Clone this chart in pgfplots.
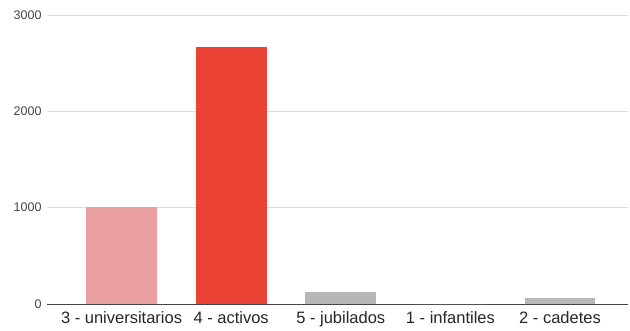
\documentclass[border=0pt]{standalone}
\usepackage{pgfplots}
\pgfplotsset{compat=1.18}
\usepackage{fontspec}
\setmainfont{Liberation Sans}
\definecolor{cpink}{HTML}{E99F9E}
\definecolor{cred}{HTML}{EA4335}
\definecolor{cgray}{HTML}{B7B7B7}
\definecolor{cgrid}{HTML}{DDDDDD}
\definecolor{ctext}{HTML}{444444}
\begin{document}
\begin{tikzpicture}[x=1pt,y=1pt]
\path[use as bounding box] (-47,-26) rectangle (583,304);
\begin{axis}[
  at={(0,0)}, anchor=south west,
  scale only axis, width=581pt, height=289pt,
  xmin=-0.68, xmax=4.62, ymin=0, ymax=3000,
  ybar, bar width=0.647, bar shift=0pt,
  xtick={0,1,2,3,4},
  xticklabels={3 - universitarios, 4 - activos, 5 - jubilados, 1 - infantiles, 2 - cadetes},
  ytick={0,1000,2000,3000},
  axis y line*=left,
  y axis line style={draw=none},
  axis x line*=bottom,
  x axis line style={color=ctext, line width=0.8pt, -},
  major tick length=0pt,
  ymajorgrids, grid style={cgrid, line width=0.8pt},
  /pgf/number format/assume math mode=true,
  /pgf/number format/1000 sep={},
  yticklabel style={font=\fontsize{12.5}{14}\selectfont, color=ctext, xshift=-2pt},
  xticklabel style={font=\fontsize{16.5}{18}\selectfont, color=black!85, yshift=-4pt},
  clip=false,
]
\addplot[fill=cpink, draw=none] coordinates {(0,1002)};
\addplot[fill=cred, draw=none] coordinates {(1,2665)};
\addplot[fill=cgray, draw=none] coordinates {(2,128)};
\addplot[fill=cgray, draw=none] coordinates {(3,0)};
\addplot[fill=cgray, draw=none] coordinates {(4,60)};
\end{axis}
\end{tikzpicture}
\end{document}
